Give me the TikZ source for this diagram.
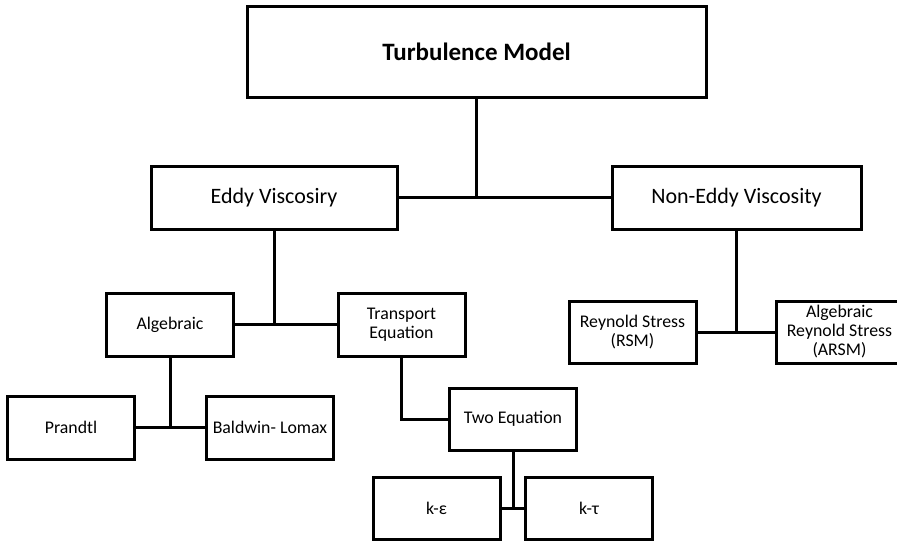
\documentclass[tikz,border=0pt]{standalone}
\usepackage{fontspec}
\setmainfont{Carlito}
\begin{document}
\begin{tikzpicture}[x=1pt,y=-1pt,
  box/.style={draw=black,line width=3pt,rectangle,outer sep=0pt,inner sep=0pt,
    align=center,fill=white},
  big/.style={box,minimum width=459pt,minimum height=91pt,font=\fontsize{25}{30}\selectfont\bfseries},
  mid/.style={box,minimum width=246pt,minimum height=63pt,font=\fontsize{22}{26}\selectfont},
  small/.style={box,minimum width=127pt,minimum height=62pt,font=\fontsize{17.8}{19}\selectfont},
  link/.style={line width=3pt,draw=black}]
\useasboundingbox (0,0) rectangle (897,541);
\clip (0,0) rectangle (897,541);

% boxes
\node[big] (top) at (476.5,51.5) {Turbulence Model};
\node[mid] (eddy) at (274,197.5) {Eddy Viscosiry};
\node[mid,minimum width=249pt] (noneddy) at (736.5,197.5) {Non-Eddy Viscosity};
\node[small,minimum height=63pt] (alg) at (170,324.5) {Algebraic};
\node[small,minimum height=63pt] (trans) at (401.5,324.5) {Transport\\Equation};
\node[small,minimum height=63pt] (prandtl) at (71,427.5) {Prandtl};
\node[small,minimum height=63pt] (baldwin) at (270,427.5) {Baldwin- Lomax};
\node[small] (two) at (513,419) {Two Equation};
\node[small] (keps) at (436.5,508) {k-ε};
\node[small] (ktau) at (589,508) {k-τ};
\node[small] (rsm) at (632.5,332) {Reynold Stress\\(RSM)};
\node[small] (arsm) at (839.5,332) {Algebraic\\Reynold Stress\\(ARSM)};

% tree connections
\draw[link] (eddy.east) -- (noneddy.west);
\draw[link] (top.south) -- (top.south |- eddy.east);

\draw[link] (alg.east) -- (trans.west);
\draw[link] (eddy.south) -- (eddy.south |- alg.east);

\draw[link] (prandtl.east) -- (baldwin.west);
\draw[link] (alg.south) -- (alg.south |- prandtl.east);

\draw[link] (trans.south) |- (two.west);

\draw[link] (keps.east) -- (ktau.west);
\draw[link] (two.south) -- (two.south |- keps.east);

\draw[link] (rsm.east) -- (arsm.west);
\draw[link] (noneddy.south) -- (noneddy.south |- rsm.east);
\end{tikzpicture}
\end{document}
